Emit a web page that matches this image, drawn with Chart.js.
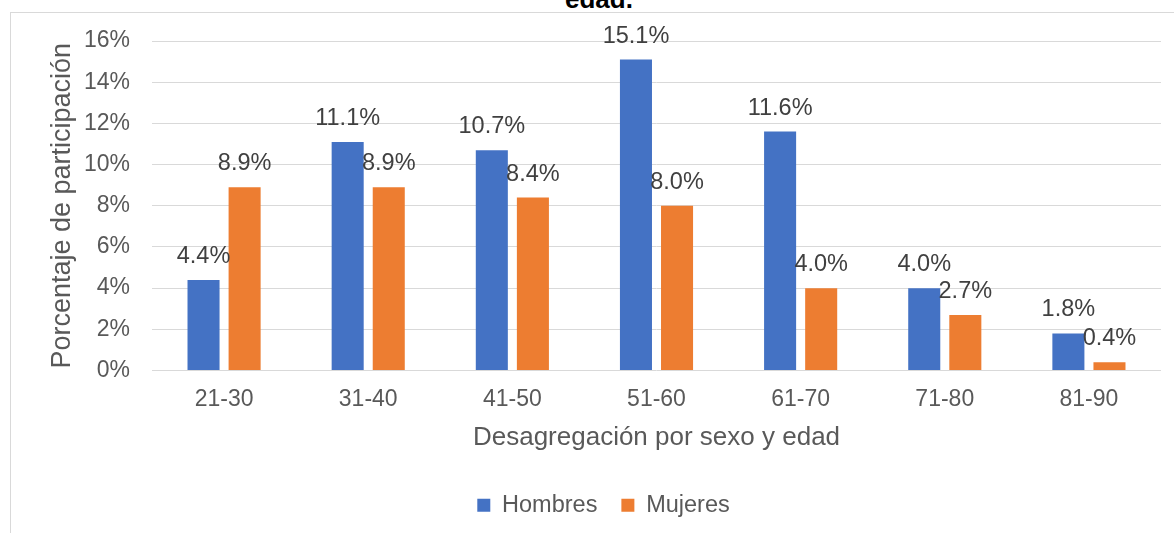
<!DOCTYPE html>
<html>
<head>
<meta charset="utf-8">
<script src="https://cdn.jsdelivr.net/npm/chart.js@4.4.0/dist/chart.umd.min.js"></script>
<style>
  html, body { margin: 0; padding: 0; background: #fff; overflow: hidden; width: 1174px; height: 533px; }
  #wrap { position: absolute; left: 0; top: 0; width: 1208px; height: 533px; }
  #frameTop { position: absolute; left: 10px; top: 12px; width: 1200px; height: 1px; background: #d9d9d9; }
  #frameLeft { position: absolute; left: 10px; top: 12px; width: 1px; height: 530px; background: #d9d9d9; }
  #title { position: absolute; left: 0; width: 1198px; top: -14px; text-align: center;
           font-family: "Liberation Sans", Arial, sans-serif; font-weight: bold; font-size: 26px; line-height: 26px; color: #000; }
  canvas { position: absolute; left: 0; top: 0; }
</style>
</head>
<body>
<div id="frameTop"></div>
<div id="frameLeft"></div>
<div id="title">edad.</div>
<div id="wrap"><canvas id="c" width="1208" height="533"></canvas></div>
<script>
const categories = ["21-30", "31-40", "41-50", "51-60", "61-70", "71-80", "81-90"];
const hombres = [4.4, 11.1, 10.7, 15.1, 11.6, 4.0, 1.8];
const mujeres = [8.9, 8.9, 8.4, 8.0, 4.0, 2.7, 0.4];
const seriesNames = ["Hombres", "Mujeres"];
const yTicks = [0, 2, 4, 6, 8, 10, 12, 14, 16];

const FONT = '"Liberation Sans", Arial, sans-serif';

const dataLabels = {
  id: 'dataLabels',
  afterDatasetsDraw(chart) {
    const ctx = chart.ctx;
    ctx.save();
    ctx.font = '23.5px ' + FONT;
    ctx.fillStyle = '#404040';
    ctx.textAlign = 'center';
    ctx.textBaseline = 'alphabetic';
    chart.data.datasets.forEach((ds, i) => {
      const meta = chart.getDatasetMeta(i);
      meta.data.forEach((bar, j) => {
        ctx.fillText(ds.data[j].toFixed(1) + '%', bar.x, bar.y - 17);
      });
    });
    ctx.restore();
  }
};

new Chart(document.getElementById('c'), {
  type: 'bar',
  data: {
    labels: categories,
    datasets: [
      { label: seriesNames[0], data: hombres, backgroundColor: '#4472C4', borderWidth: 0,
        categoryPercentage: 0.57, barPercentage: 0.78 },
      { label: seriesNames[1], data: mujeres, backgroundColor: '#ED7D31', borderWidth: 0,
        categoryPercentage: 0.57, barPercentage: 0.78 }
    ]
  },
  options: {
    responsive: false,
    animation: false,
    layout: { padding: { left: 46, right: 47, top: 41, bottom: 6 } },
    plugins: {
      title: { display: false },
      tooltip: { enabled: false },
      legend: {
        position: 'bottom',
        labels: {
          font: { family: FONT, size: 23.5 },
          color: '#595959',
          boxWidth: 13,
          boxHeight: 13,
          padding: 24
        }
      }
    },
    scales: {
      x: {
        grid: { display: false },
        border: { display: false },
        ticks: { font: { family: FONT, size: 23 }, color: '#595959', padding: 7 },
        title: { display: true, text: 'Desagregación por sexo y edad',
                 font: { family: FONT, size: 26 }, color: '#595959', padding: { top: 4, bottom: 16 } },
        afterFit(s) { s.height = 99; }
      },
      y: {
        min: 0, max: 16,
        afterBuildTicks(s) { s.ticks = yTicks.map(v => ({ value: v })); },
        grid: { color: '#d9d9d9', lineWidth: 1, drawTicks: false },
        border: { display: false },
        ticks: { font: { family: FONT, size: 23 }, color: '#595959', padding: 22,
                 callback: v => v + '%' },
        title: { display: true, text: 'Porcentaje de participación',
                 font: { family: FONT, size: 27 }, color: '#595959', padding: 0 },
        afterFit(s) { s.width = 106; }
      }
    }
  },
  plugins: [dataLabels]
});
</script>
</body>
</html>
